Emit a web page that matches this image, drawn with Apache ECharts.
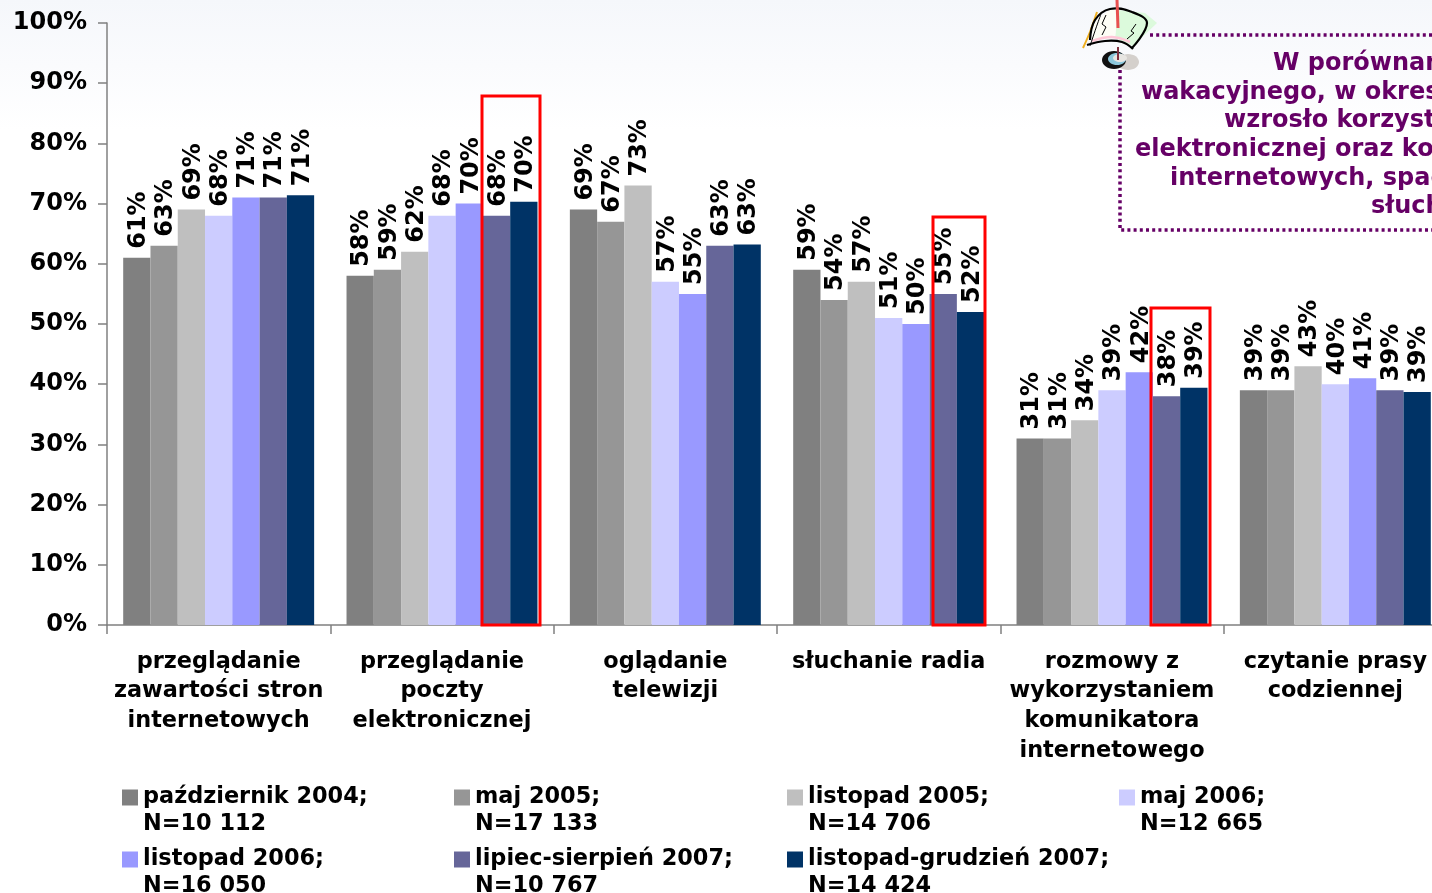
<!DOCTYPE html>
<html><head><meta charset="utf-8">
<style>html,body{margin:0;padding:0;background:#fff;overflow:hidden;width:1432px;height:893px}#c{width:1460px;height:893px}</style>
<script src="https://cdn.jsdelivr.net/npm/echarts@6/dist/echarts.min.js"></script>
</head><body><div id="c"></div>
<script>
const categories=['przeglądanie\nzawartości stron\ninternetowych','przeglądanie\npoczty\nelektronicznej','oglądanie\ntelewizji','słuchanie radia','rozmowy z\nwykorzystaniem\nkomunikatora\ninternetowego','czytanie prasy\ncodziennej'];
const oct2004=[61,58,69,59,31,39];
const may2005=[63,59,67,54,31,39];
const nov2005=[69,62,73,57,34,43];
const may2006=[68,68,57,51,39,40];
const nov2006=[71,70,55,50,42,41];
const julAug2007=[71,68,63,55,38,39];
const novDec2007=[71.4,70.3,63.2,52,39.4,38.7];
const seriesNames=['październik 2004;\nN=10 112','maj 2005;\nN=17 133','listopad 2005;\nN=14 706','maj 2006;\nN=12 665','listopad 2006;\nN=16 050','lipiec-sierpień 2007;\nN=10 767','listopad-grudzień 2007;\nN=14 424'];
const seriesValues=[oct2004,may2005,nov2005,may2006,nov2006,julAug2007,novDec2007];
const colors=['#808080','#969696','#BFBFBF','#CCCCFF','#9999FF','#666699','#003366'];
const legendPos=[[122,784],[454,784],[787,784],[1119,784],[122,846],[454,846],[787,846]];
const noteLines=[['W porównaniu',1273,64],['wakacyjnego, w okresie',1141,93],['wzrosło korzystanie',1224,121],['elektronicznej oraz komunikatorów',1135,150],['internetowych, spadło',1170,179],['słuchanie',1371,207]];
const highlightBoxes=[[482,96,58,529],[933,217,52,408],[1151,308,59,317]];
const font='"DejaVu Sans"';
const purple='#660066';
const line=(points,stroke,lineWidth,z,smooth)=>({type:'polyline',z:z,shape:{points:points,smooth:smooth||0},style:{fill:'none',stroke:stroke,lineWidth:lineWidth}});
const chart=echarts.init(document.getElementById('c'),null,{renderer:'canvas'});
chart.setOption({
 animation:false,
 backgroundColor:'#fff',
 grid:{left:107,top:23,width:1340,height:602,containLabel:false,outerBoundsMode:'none'},
 xAxis:{type:'category',data:categories,
  axisLine:{lineStyle:{color:'#808080',width:1.5}},
  axisTick:{show:true,length:9,lineStyle:{color:'#808080',width:1.5}},
  axisLabel:{interval:0,margin:22,color:'#000',fontFamily:font,fontWeight:'bold',fontSize:22.4,lineHeight:29.7,verticalAlign:'top'}},
 yAxis:{type:'value',min:0,max:100,interval:10,
  axisLine:{show:true,lineStyle:{color:'#808080',width:1.5}},
  axisTick:{show:true,length:9,lineStyle:{color:'#808080',width:1.5}},
  splitLine:{show:false},
  axisLabel:{margin:20,color:'#000',fontFamily:font,fontWeight:'bold',fontSize:24,padding:[2,0,0,0],formatter:'{value}%'}},
 legend:seriesNames.map((n,i)=>({data:[n],left:legendPos[i][0],top:legendPos[i][1]-27,orient:'horizontal',
   icon:'rect',itemWidth:16,itemHeight:16,itemGap:0,padding:0,selectedMode:false,
   formatter:s=>'\n'+s,
   textStyle:{color:'#000',fontFamily:font,fontWeight:'bold',fontSize:22.4,lineHeight:27,padding:[0,0,0,0]}})),
 series:seriesNames.map((n,i)=>({name:n,type:'bar',data:seriesValues[i],barGap:0,barCategoryGap:'14.5%',
   itemStyle:{color:colors[i]},
   label:{show:true,position:'top',rotate:90,align:'left',verticalAlign:'middle',distance:8,offset:[1,2],color:'#000',fontFamily:font,fontWeight:'bold',fontSize:24,
     formatter:p=>Math.round(p.value)+'%'}})),
 graphic:[
  {type:'rect',z:-10,shape:{x:0,y:0,width:1460,height:130},style:{fill:new echarts.graphic.LinearGradient(0,0,0,1,[{offset:0,color:'#f5f7fb'},{offset:1,color:'#ffffff'}])}},
  ...highlightBoxes.map(b=>({type:'rect',z:50,shape:{x:b[0],y:b[1],width:b[2],height:b[3]},style:{fill:'none',stroke:'#ff0000',lineWidth:3}})),
  {type:'polyline',z:51,shape:{points:[[1150,35],[1460,35]]},style:{stroke:purple,lineWidth:3.5,lineDash:[3,3.2],fill:'none'}},
  {type:'polyline',z:51,shape:{points:[[1120,70],[1120,230],[1460,230]]},style:{stroke:purple,lineWidth:3.5,lineDash:[3,3.2],fill:'none'}},
  ...noteLines.map(l=>({type:'text',z:52,style:{text:l[0],x:l[1],y:l[2],verticalAlign:'middle',fill:purple,font:'bold 24px '+font}})),
  // clip-art note icon
  {type:'ellipse',z:53,shape:{cx:1128,cy:62,rx:11,ry:8},style:{fill:'#d4d0cc'}},
  {type:'ellipse',z:54,shape:{cx:1114,cy:60,rx:12,ry:9},style:{fill:'#111'}},
  {type:'ellipse',z:55,shape:{cx:1117,cy:59,rx:9,ry:6},style:{fill:'#8cc8dc'}},
  {type:'ellipse',z:56,shape:{cx:1120,cy:58,rx:7,ry:4},style:{fill:'#e8e6e2'}},
  {type:'polygon',z:53,shape:{points:[[1118,10],[1145,13],[1157,23],[1133,46],[1115,38]]},style:{fill:'#dcfadc'}},
  {type:'polygon',z:53,shape:{points:[[1094,22],[1110,10],[1118,10],[1115,38],[1092,40]]},style:{fill:'#fdfdf6'}},
  line([[1092,41],[1112,37],[1130,42]],'#ffc8d8',2.5,54,0.4),
  line([[1090,40],[1095,20],[1110,9],[1132,12],[1147,23],[1132,48]],'#000',2.2,55,0.4),
  line([[1087,45],[1105,41],[1122,42],[1133,49]],'#000',2.2,55,0.4),
  line([[1083,48],[1090,32],[1097,12]],'#f0b020',2,54,0.3),
  line([[1090,46],[1096,28],[1101,14]],'#000',1,54,0.3),
  line([[1117,0],[1118,28]],'#e85050',3,56),
  line([[1118,47],[1118,60]],'#803040',2,57),
  line([[1106,15],[1102,24],[1106,27],[1102,35]],'#000',1,56),
  line([[1136,24],[1131,31],[1134,33],[1127,39]],'#000',1,56)
 ]
});
</script></body></html>
